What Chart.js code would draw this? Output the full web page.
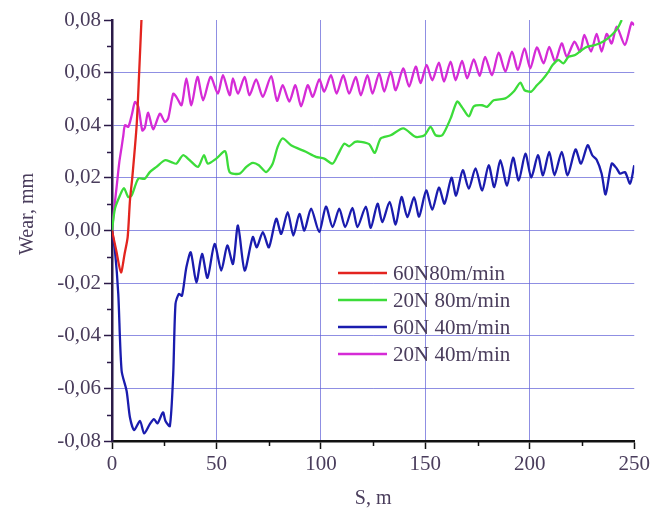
<!DOCTYPE html>
<html>
<head>
<meta charset="utf-8">
<script src="https://cdn.jsdelivr.net/npm/chart.js@4/dist/chart.umd.min.js"></script>
<style>
  body { margin: 0; background: #fff; }
  canvas { display: block; }
</style>
</head>
<body>
<canvas id="wearChart" width="653" height="511"></canvas>
<script>
// S, m  /  Wear, mm
const redX = [0, 2, 4.3, 6, 7.5, 8.6, 9.7, 11.8, 13, 14.1];
const redY = [0, -0.0075, -0.0159, -0.009, -0.0025, 0.0114, 0.02, 0.04, 0.06, 0.08];

const greenX = [0, 1.4, 3.8, 5.7, 7.8, 9.4, 12.6, 15.7, 18.1, 21.3, 25.3, 28.4, 30.8, 34, 37.2, 41.2, 44, 45.9, 49.9, 54.2,
  56.3, 61.1, 64.3, 67.4, 70.3, 73.8, 76.9, 79.3, 81.7, 85.7, 92.8, 97.6, 101.6, 105.6, 108, 111.2, 113.5, 116.4, 119.1, 123.1,
  125.8, 128.6, 133.4, 139.4, 145.4, 149.6, 152.5, 154.9, 158.1, 162.1, 165.2, 167.6, 170.8, 173.2, 177.2, 179.5, 182.7, 188.3, 192.3, 195.5,
  197.5, 200.7, 203.4, 205.8, 209, 210.9, 213.7, 216.1, 218.5, 221.7, 224.9, 227.3, 231.3, 235.2, 239.2, 242.1, 244];
const greenY = [0, 0.0083, 0.0133, 0.0161, 0.0127, 0.0133, 0.0197, 0.0197, 0.0222, 0.0242, 0.0267, 0.026, 0.0254, 0.0286, 0.0267, 0.0242, 0.0286, 0.0254, 0.0273, 0.0301,
  0.0222, 0.0216, 0.0242, 0.0257, 0.0248, 0.0222, 0.0254, 0.0318, 0.035, 0.0324, 0.0299, 0.028, 0.0273, 0.0254, 0.0286, 0.033, 0.032, 0.0337, 0.0337, 0.0328,
  0.0295, 0.035, 0.0362, 0.0388, 0.0356, 0.0362, 0.0394, 0.0362, 0.0362, 0.0426, 0.049, 0.0468, 0.0434, 0.0472, 0.0476, 0.047, 0.0495, 0.0502, 0.0528, 0.0562,
  0.0533, 0.0528, 0.0552, 0.0571, 0.0604, 0.0629, 0.0648, 0.0635, 0.066, 0.0667, 0.0686, 0.0698, 0.0705, 0.0718, 0.0743, 0.0769, 0.08];

const blueX = [0, 1.4, 3, 4.6, 7, 8.6, 10.6, 13.4, 15.4, 18.1, 20.1, 21.8, 24.4, 25.6, 27.7, 29.3, 30.4, 32, 33.5, 35.6,
  37.7, 40.4, 43.1, 45.7, 49.1, 52.3, 55.2, 57.9, 60.3, 63.5, 67.4, 69.3, 72.2, 75.1, 78.6, 81, 84.1, 86.8, 89.7, 92.1,
  95.3, 99.2, 102.4, 105.6, 108.8, 111.6, 115.1, 117.5, 121.5, 123.9, 127.1, 129.4, 132.9, 135.8, 138.6, 141.4, 144.6, 147, 150.4, 153.3,
  156.5, 159.2, 162.5, 164.7, 167.9, 170.8, 174, 177.2, 180.3, 183, 185.9, 189.1, 192, 194.7, 197.9, 200.7, 203.9, 206.3, 209.3, 211.8,
  215.3, 218.1, 221.9, 224.5, 227.7, 229.9, 232, 234.4, 236.3, 239.2, 241.6, 243.2, 245.6, 248, 250];
const blueY = [0, -0.0076, -0.0241, -0.0533, -0.061, -0.0711, -0.0759, -0.0724, -0.0771, -0.0736, -0.0717, -0.0733, -0.0691, -0.0724, -0.0743, -0.0546, -0.0279, -0.0241, -0.0248, -0.014,
  -0.0083, -0.0197, -0.0089, -0.018, -0.0051, -0.0152, -0.0057, -0.0127, 0.0019, -0.0152, -0.0025, -0.0064, -0.0006, -0.0064, 0.0045, -0.0013, 0.007, -0.0019, 0.0063, 0,
  0.0083, -0.0006, 0.0091, 0.0013, 0.0083, 0.0013, 0.0086, 0.0013, 0.0091, 0.001, 0.0102, 0.0032, 0.0109, 0.0023, 0.0127, 0.0051, 0.0127, 0.0053, 0.0152, 0.0079,
  0.0163, 0.0102, 0.0201, 0.0133, 0.0229, 0.0159, 0.0236, 0.0152, 0.0248, 0.0165, 0.0267, 0.0171, 0.0277, 0.019, 0.0292, 0.0201, 0.0286, 0.021, 0.0299, 0.021,
  0.0299, 0.021, 0.0308, 0.0254, 0.0324, 0.0286, 0.0269, 0.0216, 0.0137, 0.0254, 0.0236, 0.0216, 0.0222, 0.0178, 0.0248];

const magentaX = [0, 1, 2.2, 3.5, 4.6, 5.4, 6.2, 7.8, 9.5, 11, 12.6, 14.5, 15.7, 17.3, 19.7, 22.9, 25.3, 26.9, 29.3, 30.8,
  33.3, 35.6, 38, 40.9, 43.6, 47.2, 50.7, 53.1, 56.3, 57.9, 60.3, 63.5, 65.8, 69, 72.2, 76.2, 79, 81.7, 84.9, 87.8,
  90.5, 93.7, 96.1, 99.2, 101.6, 104.8, 107.5, 110.7, 113.5, 116.7, 119.1, 122.3, 124.7, 127.9, 130.3, 133.4, 135.8, 139.4, 142.2, 145.4,
  147.7, 150.6, 153.3, 156.5, 158.9, 162.1, 164.5, 167.6, 170, 173.2, 176, 178.6, 181.9, 185.1, 188.3, 191.5, 194.3, 197.5, 200.2, 203.4,
  206.6, 209.3, 212.1, 215.3, 217.7, 221.4, 224.1, 226.1, 229.3, 232, 234.4, 236.8, 239.2, 241.6, 245.5, 248.7, 250];
const magentaY = [0, 0.008, 0.0165, 0.026, 0.0317, 0.036, 0.04, 0.0394, 0.044, 0.0488, 0.047, 0.038, 0.039, 0.0448, 0.0384, 0.0444, 0.0413, 0.0426, 0.052, 0.0508,
  0.0476, 0.0578, 0.0476, 0.0584, 0.0495, 0.0584, 0.052, 0.059, 0.0514, 0.0578, 0.052, 0.0584, 0.0514, 0.0574, 0.0508, 0.0587, 0.0493, 0.0552, 0.049, 0.0552,
  0.0472, 0.0552, 0.0508, 0.0574, 0.0528, 0.059, 0.052, 0.059, 0.052, 0.0584, 0.0514, 0.059, 0.052, 0.0597, 0.0528, 0.0604, 0.0533, 0.0616, 0.0547, 0.0623,
  0.056, 0.0629, 0.0571, 0.0638, 0.0566, 0.0642, 0.0571, 0.0645, 0.0578, 0.065, 0.0588, 0.066, 0.059, 0.0676, 0.0604, 0.068, 0.061, 0.0692, 0.0616, 0.0696,
  0.0635, 0.0698, 0.0642, 0.0711, 0.066, 0.0718, 0.068, 0.0743, 0.068, 0.0747, 0.068, 0.0747, 0.0711, 0.0775, 0.0705, 0.079, 0.078];

const seriesNames = ['60N80m/min', '20N 80m/min', '60N 40m/min', '20N 40m/min'];
const seriesColors = ['#e3241f', '#3cdc3a', '#1a1cae', '#d52bd6'];

const xTicks = [0, 50, 100, 150, 200, 250];
const yTicks = [-0.08, -0.06, -0.04, -0.02, 0, 0.02, 0.04, 0.06, 0.08];

const textColor = '#4a3d5c';
const gridColor = 'rgba(95, 95, 215, 0.7)';
const serif = "'Liberation Serif', 'DejaVu Serif', serif";

function pts(xs, ys) {
  const n = Math.min(xs.length, ys.length);
  const out = [];
  for (let i = 0; i < n; i++) out.push({ x: xs[i], y: ys[i] });
  return out;
}

function fmt(v) {
  if (Math.abs(v) < 1e-9) v = 0;
  return v.toFixed(2).replace('.', ',');
}

// minor ticks, y title and the legend inside the plot
const extras = {
  id: 'extras',
  afterDraw(chart) {
    const ctx = chart.ctx;
    const xs = chart.scales.x, ys = chart.scales.y;
    const area = chart.chartArea;
    ctx.save();
    ctx.lineWidth = 1.5;
    ctx.strokeStyle = '#2b1a48';
    for (let v = -0.07; v < 0.08; v += 0.02) {
      const py = Math.round(ys.getPixelForValue(v)) + 0.5;
      ctx.beginPath();
      ctx.moveTo(area.left, py);
      ctx.lineTo(area.left - 5, py);
      ctx.stroke();
    }
    ctx.strokeStyle = '#111';
    for (let v = 25; v < 250; v += 50) {
      const px = Math.round(xs.getPixelForValue(v)) + 0.5;
      ctx.beginPath();
      ctx.moveTo(px, area.bottom);
      ctx.lineTo(px, area.bottom + 5);
      ctx.stroke();
    }

    ctx.fillStyle = textColor;
    ctx.font = '20px ' + serif;
    ctx.textAlign = 'center';
    ctx.textBaseline = 'middle';
    ctx.save();
    ctx.translate(28, 214);
    ctx.rotate(-Math.PI / 2);
    ctx.fillText('Wear, mm', 0, 0);
    ctx.restore();

    ctx.font = '21px ' + serif;
    ctx.textAlign = 'left';
    ctx.lineWidth = 2.5;
    seriesNames.forEach((name, i) => {
      const y = 273 + i * 27;
      ctx.strokeStyle = seriesColors[i];
      ctx.beginPath();
      ctx.moveTo(338, y);
      ctx.lineTo(387, y);
      ctx.stroke();
      ctx.fillText(name, 393, y + 1);
    });
    ctx.restore();
  }
};

const allX = [redX, greenX, blueX, magentaX];
const allY = [redY, greenY, blueY, magentaY];

new Chart(document.getElementById('wearChart'), {
  type: 'line',
  data: {
    datasets: seriesNames.map((name, i) => ({
      label: name,
      data: pts(allX[i], allY[i]),
      borderColor: seriesColors[i],
      backgroundColor: seriesColors[i],
      borderWidth: 2.3,
      pointRadius: 0,
      tension: 0.25,
      fill: false
    }))
  },
  options: {
    responsive: false,
    animation: false,
    devicePixelRatio: 1,
    layout: { padding: { left: 0, top: 20, right: 17, bottom: 0 } },
    plugins: { legend: { display: false }, tooltip: { enabled: false } },
    scales: {
      x: {
        type: 'linear',
        min: 0,
        max: 250,
        afterBuildTicks: (s) => { s.ticks = xTicks.map(v => ({ value: v })); },
        afterFit: (s) => { s.height = 70; },
        ticks: {
          color: textColor,
          padding: 3,
          maxRotation: 0,
          font: { family: serif, size: 21 }
        },
        grid: {
          color: (c) => (c.tick && (c.tick.value === 0 || c.tick.value === 250)) ? 'rgba(0,0,0,0)' : gridColor,
          lineWidth: 1,
          tickColor: '#111',
          tickLength: 8,
          tickWidth: 1.5
        },
        border: { color: '#111', width: 2.5 },
        title: {
          display: true,
          text: 'S, m',
          color: textColor,
          font: { family: serif, size: 20 },
          padding: { top: 6, bottom: 0 }
        }
      },
      y: {
        min: -0.08,
        max: 0.08,
        afterBuildTicks: (s) => { s.ticks = yTicks.map(v => ({ value: v })); },
        afterFit: (s) => { s.width = 112; },
        ticks: {
          color: textColor,
          padding: 3,
          font: { family: serif, size: 21 },
          callback: (v) => fmt(v)
        },
        grid: {
          color: (c) => (c.tick && (c.tick.value >= 0.079 || c.tick.value <= -0.079)) ? 'rgba(0,0,0,0)' : gridColor,
          lineWidth: 1,
          tickColor: '#2b1a48',
          tickLength: 8,
          tickWidth: 1.5
        },
        border: { color: '#2b1a48', width: 2.5 },
        title: { display: false }
      }
    }
  },
  plugins: [extras]
});
</script>
</body>
</html>
